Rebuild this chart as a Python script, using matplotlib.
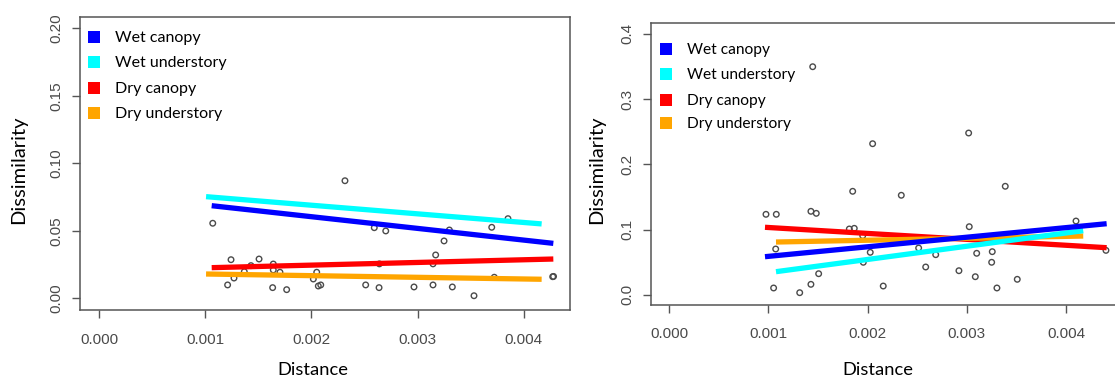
import matplotlib
matplotlib.use("Agg")
import matplotlib.pyplot as plt
from matplotlib import font_manager
from matplotlib.patches import Rectangle
from matplotlib.ticker import FormatStrFormatter

# ---------------- data ----------------
series_names = ["Wet canopy", "Wet understory", "Dry canopy", "Dry understory"]
series_colors = ["#0000FF", "#00FFFF", "#FF0000", "#FFA500"]

# left panel scatter
left_x = [0.002316, 0.001071, 0.002592, 0.002700, 0.003698, 0.003851, 0.003299,
          0.003249, 0.003170, 0.001243, 0.001507, 0.001431, 0.001641, 0.001368,
          0.001704, 0.001641, 0.002050, 0.001271, 0.001211, 0.001635, 0.001767,
          0.002018, 0.002065, 0.002088, 0.002511, 0.002637, 0.002966, 0.003145,
          0.003327, 0.003531, 0.003722, 0.004272, 0.004280, 0.002640, 0.003145]
left_y = [0.0871, 0.0556, 0.0523, 0.0499, 0.0526, 0.0590, 0.0506,
          0.0425, 0.0321, 0.0286, 0.0291, 0.0242, 0.0254, 0.0197,
          0.0193, 0.0210, 0.0193, 0.0150, 0.0099, 0.0079, 0.0064,
          0.0143, 0.0091, 0.0099, 0.0099, 0.0079, 0.0084, 0.0099,
          0.0084, 0.0019, 0.0156, 0.0160, 0.0162, 0.0255, 0.0255]

# left panel fitted lines: (x start, x end), (y start, y end)
left_fit_x = [[0.001061, 0.004278], [0.001008, 0.004168], [0.001061, 0.004278], [0.001008, 0.004168]]
left_fit_y = [[0.0686, 0.0407], [0.0753, 0.0551], [0.0227, 0.0291], [0.0180, 0.0141]]

# right panel scatter
right_x = [0.001446, 0.002050, 0.003018, 0.001849, 0.002339, 0.003387, 0.000975,
           0.001079, 0.001428, 0.001482, 0.001815, 0.001865, 0.001950, 0.003024,
           0.004100, 0.001073, 0.002026, 0.001956, 0.002514, 0.002686, 0.003099,
           0.003256, 0.003250, 0.002585, 0.002920, 0.003085, 0.003508, 0.001506,
           0.001428, 0.001052, 0.001315, 0.002157, 0.003303, 0.004402]
right_y = [0.3497, 0.2316, 0.2480, 0.1586, 0.1525, 0.1663, 0.1233,
           0.1233, 0.1279, 0.1248, 0.1008, 0.1018, 0.0905, 0.1043,
           0.1130, 0.0701, 0.0650, 0.0497, 0.0716, 0.0614, 0.0635,
           0.0660, 0.0497, 0.0425, 0.0368, 0.0276, 0.0236, 0.0322,
           0.0159, 0.0103, 0.0031, 0.0133, 0.0103, 0.0680]

right_fit_x = [[0.000965, 0.004409], [0.001076, 0.004173], [0.000965, 0.004409], [0.001076, 0.004173]]
right_fit_y = [[0.0583, 0.1089], [0.0353, 0.0982], [0.1034, 0.0721], [0.0808, 0.0900]]

left_xticks = [0.000, 0.001, 0.002, 0.003, 0.004]
left_yticks = [0.00, 0.05, 0.10, 0.15, 0.20]
right_xticks = [0.000, 0.001, 0.002, 0.003, 0.004]
right_yticks = [0.0, 0.1, 0.2, 0.3, 0.4]

x_label = "Distance"
y_label = "Dissimilarity"

# ---------------- styling ----------------
W, H = 1115, 379
DPI = 100
names = {f.name for f in font_manager.fontManager.ttflist}
narrow = "Liberation Sans Narrow" if "Liberation Sans Narrow" in names else "Liberation Sans"
label_font = "Lato" if "Lato" in names else "DejaVu Sans"
tick_color = "#4a4a4a"
box_color = "#555555"

fig = plt.figure(figsize=(W / DPI, H / DPI), dpi=DPI)
fig.patch.set_facecolor("white")


def px_axes(x0, x1, ytop, ybot):
    return fig.add_axes([x0 / W, (H - ybot) / H, (x1 - x0) / W, (ybot - ytop) / H])


def style(ax, xticks, yticks, yfmt, xpad, ypad):
    ax.set_xticks(xticks)
    ax.set_yticks(yticks)
    ax.xaxis.set_major_formatter(FormatStrFormatter("%.3f"))
    ax.yaxis.set_major_formatter(FormatStrFormatter(yfmt))
    for s in ax.spines.values():
        s.set_color(box_color)
        s.set_linewidth(1.1)
    ax.tick_params(axis="both", direction="out", length=6, width=1.0, color=box_color,
                   labelcolor=tick_color)
    ax.tick_params(axis="x", pad=xpad)
    ax.tick_params(axis="y", pad=ypad)
    for lab in ax.get_xticklabels():
        lab.set_fontfamily(narrow)
        lab.set_fontsize(11)
    for lab in ax.get_yticklabels():
        lab.set_fontfamily("Liberation Sans")
        lab.set_fontsize(11)
        lab.set_rotation(90)
        lab.set_va("center")


def draw(ax, xs, ys, fx, fy):
    ax.scatter(xs, ys, s=16, facecolors="none", edgecolors="#4a4a4a", linewidths=1.0, zorder=2)
    order = [2, 3, 1, 0]
    for i in order:
        ax.plot(fx[i], fy[i], color=series_colors[i], lw=3.8, solid_capstyle="butt", zorder=3)


def legend(x_sq, ys, x_txt, size):
    for i, name in enumerate(series_names):
        fig.patches.append(Rectangle(((x_sq - 6) / W, (H - ys[i] - 6) / H), 12 / W, 12 / H,
                                     transform=fig.transFigure, facecolor=series_colors[i],
                                     edgecolor="none"))
        fig.text(x_txt / W, (H - ys[i] - 1) / H, name, fontsize=size, family=label_font,
                 ha="left", va="center", color="black")


# left panel
axL = px_axes(80, 570, 17, 309.5)
axL.set_xlim(-0.000179, 0.004435)
axL.set_ylim(-0.0083, 0.2084)
draw(axL, left_x, left_y, left_fit_x, left_fit_y)
style(axL, left_xticks, left_yticks, "%.2f", 11, 6)

# right panel (right edge falls just outside the figure)
axR = px_axes(651, 1125, 23.3, 305)
axR.set_xlim(-0.000184, 0.004594)
axR.set_ylim(-0.0158, 0.4163)
draw(axR, right_x, right_y, right_fit_x, right_fit_y)
style(axR, right_xticks, right_yticks, "%.1f", 10, 6)

legend(93.5, [36.7, 61.7, 88, 113], 115, 11.5)
legend(665.5, [49, 74, 99.5, 123], 687, 11.2)

fig.text(313 / W, (H - 370) / H, x_label, fontsize=13.2, family=label_font, ha="center", va="center")
fig.text(878 / W, (H - 370) / H, x_label, fontsize=13.2, family=label_font, ha="center", va="center")
fig.text(19 / W, (H - 170) / H, y_label, fontsize=14.5, family=label_font, ha="center", va="center", rotation=90)
fig.text(597 / W, (H - 170) / H, y_label, fontsize=14.5, family=label_font, ha="center", va="center", rotation=90)

fig.savefig("out.png", dpi=DPI, facecolor="white")
